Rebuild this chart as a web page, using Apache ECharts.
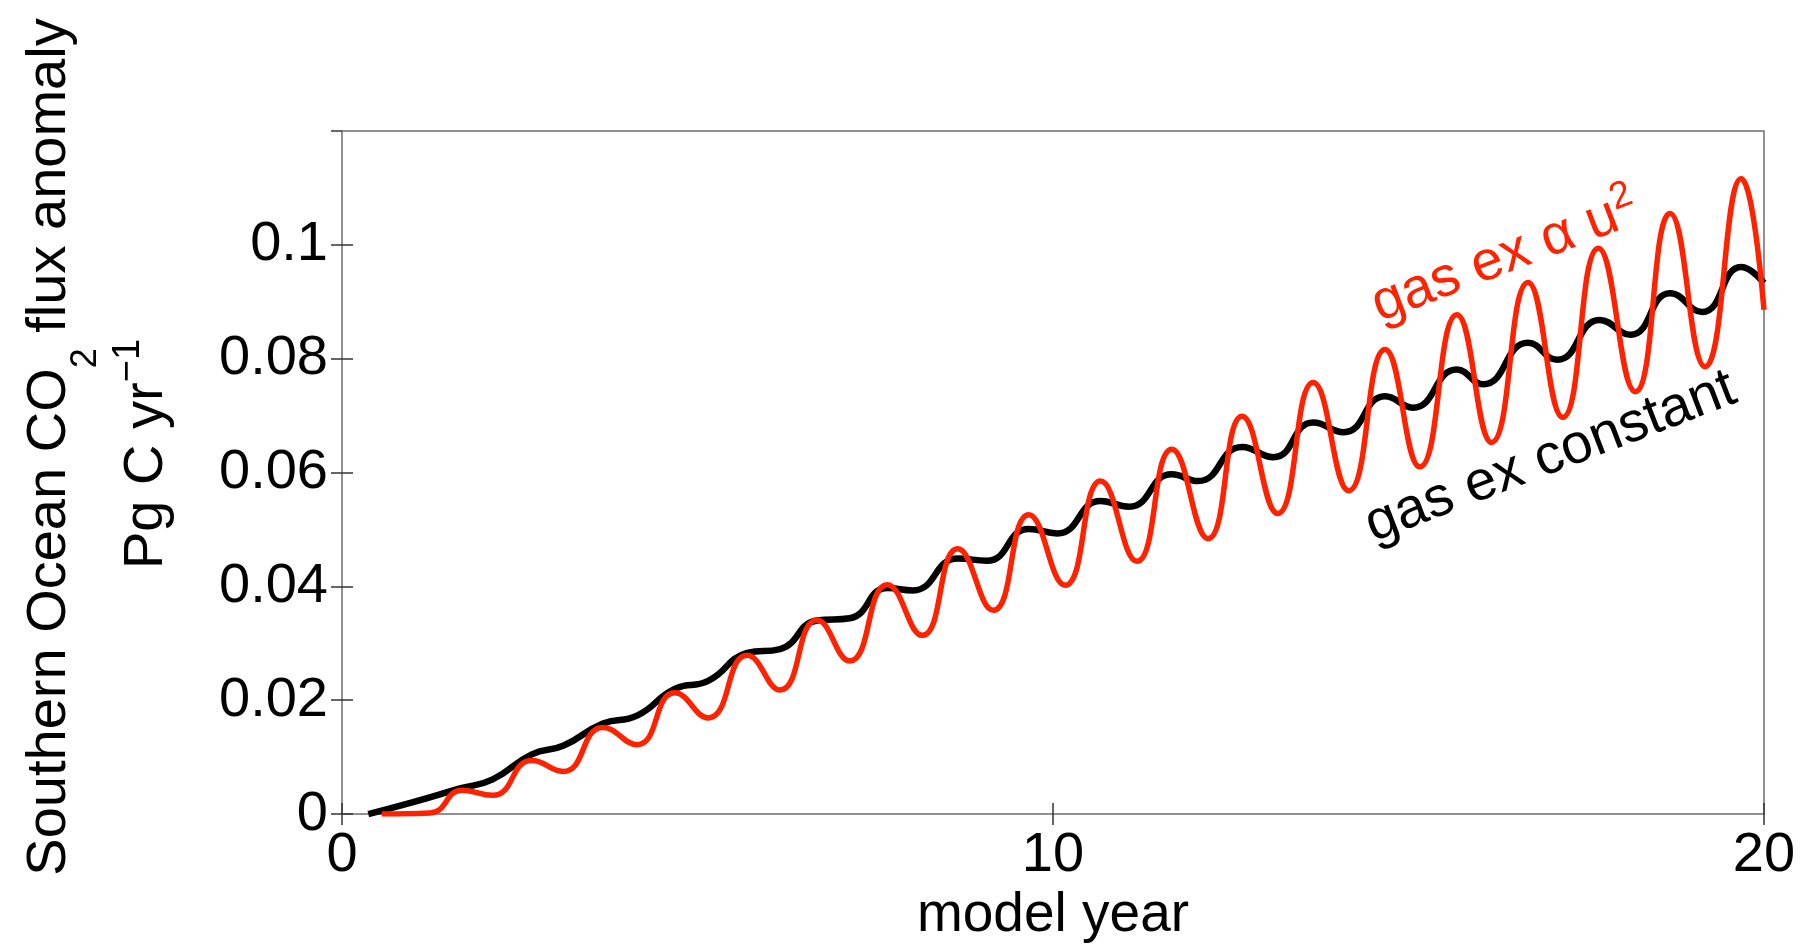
<!DOCTYPE html>
<html>
<head>
<meta charset="utf-8">
<script src="https://cdn.jsdelivr.net/npm/echarts@6/dist/echarts.min.js"></script>
<style>
  html, body { margin: 0; padding: 0; background: #fff; }
  #main { width: 1814px; height: 948px; }
</style>
</head>
<body>
<div id="main"></div>
<script>
// gas exchange constant (black)
const constYears = [0.37, 1.00, 1.66, 2.12, 2.67, 3.11, 3.67, 4.15, 4.68, 5.15, 5.70, 6.16, 6.68, 7.14, 7.67, 8.03, 8.66, 9.07, 9.66, 10.06,
  10.67, 11.07, 11.67, 12.04, 12.66, 13.10, 13.66, 14.09, 14.67, 15.06, 15.68, 16.05, 16.68, 17.09, 17.69, 18.12, 18.68, 19.13, 19.68, 20.00]
const constFlux = [0, 0.0021, 0.0045, 0.0061, 0.0105, 0.0120, 0.0159, 0.0173, 0.0220, 0.0234, 0.0283, 0.0290, 0.0340, 0.0344, 0.0397, 0.0393, 0.0449, 0.0445, 0.0501, 0.0493,
  0.0550, 0.0540, 0.0597, 0.0585, 0.0645, 0.0627, 0.0688, 0.0671, 0.0734, 0.0714, 0.0781, 0.0755, 0.0828, 0.0798, 0.0868, 0.0842, 0.0915, 0.0882, 0.0961, 0.0933]

// gas exchange proportional to u^2 (red)
const u2Years = [0.56, 1.24, 1.69, 2.12, 2.67, 3.11, 3.67, 4.15, 4.68, 5.15, 5.70, 6.16, 6.68, 7.14, 7.67, 8.16, 8.66, 9.16, 9.66, 10.17,
  10.67, 11.18, 11.67, 12.18, 12.66, 13.16, 13.66, 14.16, 14.67, 15.16, 15.68, 16.17, 16.68, 17.17, 17.67, 18.19, 18.68, 19.17, 19.68, 20.00]
const u2Flux = [0, 0.0002, 0.0042, 0.0033, 0.0094, 0.0075, 0.0152, 0.0122, 0.0213, 0.0169, 0.0279, 0.0218, 0.0341, 0.0269, 0.0403, 0.0314, 0.0466, 0.0358, 0.0526, 0.0402,
  0.0585, 0.0444, 0.0641, 0.0484, 0.0699, 0.0528, 0.0758, 0.0568, 0.0816, 0.0610, 0.0877, 0.0653, 0.0934, 0.0697, 0.0994, 0.0742, 0.1055, 0.0786, 0.1116, 0.0886]

const xTicks = [0, 10, 20]
const yTicks = [0, 0.02, 0.04, 0.06, 0.08, 0.1]

// where the in-plot labels sit (data coords)
const redLabelAt = [16.34, 0.0985]
const blackLabelAt = [17.0, 0.0627]

const FONT = "'Liberation Sans', Arial, Helvetica, sans-serif"
const RED = '#ff2200'
const pairs = (xs, ys) => xs.map((x, i) => [x, ys[i]])

const chart = echarts.init(document.getElementById('main'))

const tickStyle = { inside: true, length: 11, lineStyle: { color: '#333', width: 1.5 } }

chart.setOption({
  animation: false,
  backgroundColor: '#fff',
  grid: { left: 342, right: 50, top: 131, bottom: 131, show: true, borderColor: '#6e6e6e', borderWidth: 1.5, backgroundColor: '#fff' },
  xAxis: [
    {
      type: 'value', min: xTicks[0], max: xTicks[xTicks.length - 1], interval: 10,
      axisLine: { show: false }, splitLine: { show: false }, axisTick: tickStyle,
      axisLabel: { fontFamily: FONT, fontSize: 56, color: '#000', margin: 13 },
      name: 'model year', nameLocation: 'middle', nameGap: 70,
      nameTextStyle: { fontFamily: FONT, fontSize: 55, color: '#000' }
    },
    {
      type: 'value', position: 'top', min: 0, max: 20, interval: 10,
      axisLine: { show: false }, splitLine: { show: false }, axisTick: tickStyle, axisLabel: { show: false }
    }
  ],
  yAxis: [
    {
      type: 'value', min: 0, max: 0.12, interval: 0.02,
      axisLine: { show: false }, splitLine: { show: false }, axisTick: tickStyle,
      axisLabel: {
        fontFamily: FONT, fontSize: 56, color: '#000', margin: 14, showMaxLabel: false,
        formatter: v => yTicks.some(t => Math.abs(t - v) < 1e-9) ? String(+v.toFixed(2)) : ''
      }
    },
    {
      type: 'value', position: 'right', min: 0, max: 0.12, interval: 0.02,
      axisLine: { show: false }, splitLine: { show: false }, axisTick: tickStyle, axisLabel: { show: false }
    }
  ],
  series: [
    {
      name: 'gas ex constant', type: 'line', data: pairs(constYears, constFlux),
      smooth: 0.5, showSymbol: false, lineStyle: { color: '#000', width: 6.5 }, z: 2
    },
    {
      name: 'gas ex α u²', type: 'line', data: pairs(u2Years, u2Flux),
      smooth: 0.5, showSymbol: false, lineStyle: { color: RED, width: 5.5 }, z: 3
    }
  ]
})

const redPos = chart.convertToPixel({ gridIndex: 0 }, redLabelAt)
const blackPos = chart.convertToPixel({ gridIndex: 0 }, blackLabelAt)
const tilt = 21 * Math.PI / 180

chart.setOption({
  graphic: [
    {
      type: 'text', x: redPos[0], y: redPos[1], rotation: tilt, z: 10,
      style: {
        text: '{m|gas ex α u}{p|2}', fill: RED, align: 'center', verticalAlign: 'middle',
        rich: {
          m: { fontFamily: FONT, fontSize: 56, lineHeight: 60, fill: RED, verticalAlign: 'top', padding: [6, 0, 0, 0] },
          p: { fontFamily: FONT, fontSize: 38, lineHeight: 38, fill: RED, verticalAlign: 'top' }
        }
      }
    },
    {
      type: 'text', x: blackPos[0], y: blackPos[1], rotation: tilt, z: 10,
      style: { text: 'gas ex constant', fill: '#000', font: `56px ${FONT}`, align: 'center', verticalAlign: 'middle' }
    },
    // y-axis title, two lines, with sub/superscripts
    {
      type: 'text', x: 54, y: 447, rotation: Math.PI / 2,
      style: {
        text: '{m|Southern Ocean CO}{s|2}{m| flux anomaly}', fill: '#000', align: 'center', verticalAlign: 'middle',
        rich: {
          m: { fontFamily: FONT, fontSize: 56, lineHeight: 64, fill: '#000', verticalAlign: 'top' },
          s: { fontFamily: FONT, fontSize: 36, lineHeight: 36, fill: '#000', verticalAlign: 'top', padding: [46, 0, 0, 0] }
        }
      }
    },
    {
      type: 'text', x: 138, y: 454, rotation: Math.PI / 2,
      style: {
        text: '{m|Pg C yr}{p|\u22121}', fill: '#000', align: 'center', verticalAlign: 'middle',
        rich: {
          m: { fontFamily: FONT, fontSize: 56, lineHeight: 56, fill: '#000', verticalAlign: 'top', padding: [9, 0, 0, 0] },
          p: { fontFamily: FONT, fontSize: 38, lineHeight: 40, fill: '#000', verticalAlign: 'top' }
        }
      }
    }
  ]
})
</script>
</body>
</html>
